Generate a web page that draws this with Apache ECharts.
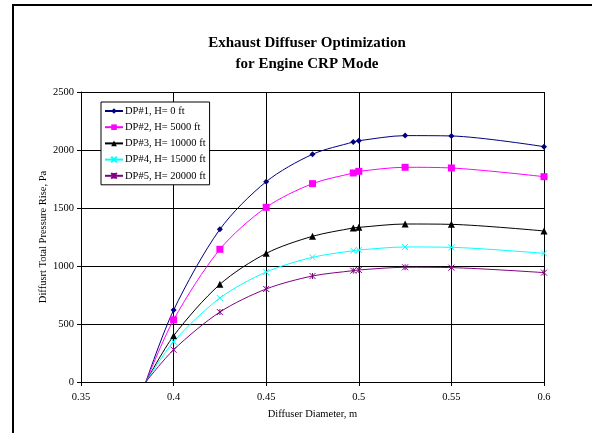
<!DOCTYPE html>
<html>
<head>
<meta charset="utf-8">
<script src="https://cdn.jsdelivr.net/npm/echarts@6/dist/echarts.min.js"></script>
<style>
  html, body { margin: 0; padding: 0; background: #fff; }
  #chart { width: 592px; height: 433px; }
</style>
</head>
<body>
<div id="chart"></div>
<script>
const diameters = [0.385, 0.4, 0.425, 0.45, 0.475, 0.497, 0.5, 0.525, 0.55, 0.6];
const dp1 = [0, 620, 1316, 1727, 1963, 2069, 2080, 2124, 2121, 2029];
const dp2 = [0, 536, 1144, 1506, 1710, 1802, 1816, 1851, 1845, 1770];
const dp3 = [0, 398, 842, 1109, 1256, 1328, 1333, 1362, 1359, 1302];
const dp4 = [0, 347, 724, 948, 1075, 1132, 1138, 1164, 1161, 1109];
const dp5 = [0, 278, 603, 802, 914, 960, 966, 989, 986, 943];
const seriesNames = ['DP#1, H= 0 ft', 'DP#2, H= 5000 ft', 'DP#3, H= 10000 ft', 'DP#4, H= 15000 ft', 'DP#5, H= 20000 ft'];
const xTicks = [0.35, 0.4, 0.45, 0.5, 0.55, 0.6];
const yTicks = [0, 500, 1000, 1500, 2000, 2500];

const font = 'Liberation Serif';
const crossPath = 'path://M0,0L10,10M10,0L0,10';
const starPath = 'path://M0,0L10,10M10,0L0,10M5,0L5,10';

const styles = [
    { color: '#000080', symbol: 'diamond', size: 6, stroke: false },
    { color: '#FF00FF', symbol: 'rect', size: 7, stroke: false },
    { color: '#000000', symbol: 'triangle', size: 7, stroke: false },
    { color: '#00FFFF', symbol: crossPath, size: 6, stroke: true },
    { color: '#800080', symbol: starPath, size: 6, stroke: true }
];

const makeSeries = (name, values, st) => ({
    name: name,
    type: 'line',
    smooth: 0.3,
    symbol: st.symbol,
    symbolSize: st.size,
    lineStyle: { color: st.color, width: 1 },
    itemStyle: st.stroke
        ? { color: st.color, borderColor: st.color, borderWidth: 1 }
        : { color: st.color, borderWidth: 0 },
    data: values.map((v, i) => i === 0
        ? { value: [diameters[i], v], symbol: 'none' }
        : [diameters[i], v])
});

const chart = echarts.init(document.getElementById('chart'));
const allData = [dp1, dp2, dp3, dp4, dp5];

chart.setOption({
    animation: false,
    backgroundColor: '#fff',
    textStyle: { fontFamily: font },
    graphic: [{
        type: 'rect',
        shape: { x: 13, y: 5, width: 700, height: 600 },
        style: { fill: 'none', stroke: '#000', lineWidth: 2 },
        silent: true
    }],
    title: {
        text: 'Exhaust Diffuser Optimization\nfor Engine CRP Mode',
        left: 302,
        top: 28,
        textAlign: 'center',
        textStyle: { fontFamily: font, fontSize: 15, fontWeight: 'bold', color: '#000', lineHeight: 21 }
    },
    legend: {
        orient: 'vertical',
        left: 101,
        top: 102,
        padding: [3, 4, 3, 3],
        itemGap: 4.2,
        itemWidth: 18,
        itemHeight: 7,
        backgroundColor: '#fff',
        borderColor: '#000',
        borderWidth: 1,
        borderRadius: 0,
        textStyle: { fontFamily: font, fontSize: 10.5, color: '#000', lineHeight: 12, padding: [0, 0, 0, -3] },
        data: seriesNames
    },
    grid: { left: 81, right: 48, top: 92, bottom: 51, containLabel: false },
    xAxis: {
        type: 'value',
        min: xTicks[0],
        max: xTicks[xTicks.length - 1],
        interval: 0.05,
        name: 'Diffuser Diameter, m',
        nameLocation: 'middle',
        nameGap: 27,
        nameMoveOverlap: false,
        nameTextStyle: { fontFamily: font, fontSize: 10.5, color: '#000' },
        axisLine: { lineStyle: { color: '#000', width: 1 } },
        axisTick: { show: true, length: 4, inside: false, lineStyle: { color: '#000' } },
        axisLabel: {
            color: '#000', fontFamily: font, fontSize: 10.5, margin: 10,
            formatter: v => String(+v.toFixed(2))
        },
        splitLine: { show: true, lineStyle: { color: '#000', width: 1 } }
    },
    yAxis: {
        type: 'value',
        min: yTicks[0],
        max: yTicks[yTicks.length - 1],
        interval: 500,
        name: 'Diffusrt Total Pressure Rise, Pa',
        nameLocation: 'middle',
        nameGap: 32,
        nameMoveOverlap: false,
        nameTextStyle: { fontFamily: font, fontSize: 10.5, color: '#000' },
        axisLine: { show: true, lineStyle: { color: '#000', width: 1 } },
        axisTick: { show: true, length: 4, inside: false, lineStyle: { color: '#000' } },
        axisLabel: { color: '#000', fontFamily: font, fontSize: 10.5, margin: 7, formatter: v => String(v) },
        splitLine: { show: true, lineStyle: { color: '#000', width: 1 } }
    },
    series: allData.map((vals, i) => makeSeries(seriesNames[i], vals, styles[i]))
});
</script>
</body>
</html>
